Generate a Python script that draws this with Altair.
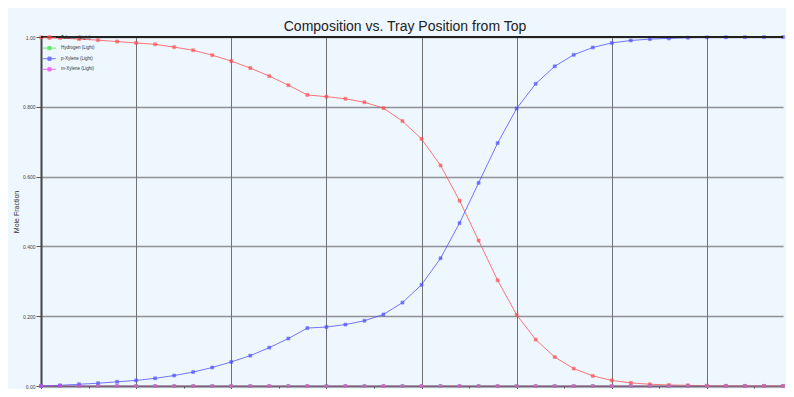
import altair as alt
import pandas as pd

trays = list(range(40))
series = ["Toluene (Light)", "Hydrogen (Light)", "p-Xylene (Light)", "m-Xylene (Light)"]
colors = ["#ff4a4a", "#3fe03f", "#4a4aff", "#ee40ee"]

toluene = [0.999, 0.997, 0.994, 0.991, 0.987, 0.983, 0.979, 0.971, 0.962, 0.948,
           0.931, 0.911, 0.888, 0.862, 0.834, 0.829, 0.823, 0.813, 0.796, 0.759,
           0.708, 0.632, 0.531, 0.417, 0.303, 0.204, 0.133, 0.083, 0.050, 0.029,
           0.016, 0.009, 0.005, 0.003, 0.002, 0.001, 0.0005, 0.0003, 0.0002, 0.0001]
hydrogen = [0.0] * 40
pxylene = [0.0, 0.002, 0.005, 0.008, 0.012, 0.016, 0.022, 0.030, 0.040, 0.053,
           0.069, 0.087, 0.110, 0.136, 0.166, 0.169, 0.176, 0.187, 0.205, 0.239,
           0.290, 0.366, 0.467, 0.582, 0.696, 0.795, 0.866, 0.916, 0.949, 0.970,
           0.983, 0.990, 0.994, 0.996, 0.998, 0.999, 0.9993, 0.9995, 0.9997, 0.9998]
mxylene = [0.0] * 40

rows = []
for name, vals in zip(series, [toluene, hydrogen, pxylene, mxylene]):
    for t, v in zip(trays, vals):
        rows.append({"Tray": t, "Fraction": v, "Series": name})
df = pd.DataFrame(rows)

x_major = "abs(datum.value % 5) < 0.01"
y_major = "abs(datum.value * 5 - round(datum.value * 5)) < 0.01"

x_axis = alt.Axis(
    values=[i * 2.5 for i in range(16)],
    labelExpr="abs(datum.value % 5) < 0.01 ? format(datum.value, 'd') : ''",
    title=None,
    gridColor="#505050",
    gridWidth=1,
    gridOpacity={"condition": {"test": x_major, "value": 0.8}, "value": 0},
    tickSize={"condition": {"test": x_major, "value": 4}, "value": 2},
    tickColor="#555",
    domainColor="#333",
    domainWidth=1.5,
    labelFontSize=5,
    labelColor="#444",
    labelPadding=1,
)
y_axis = alt.Axis(
    values=[round(i * 0.1, 1) for i in range(11)],
    labelExpr="datum.value == 0 ? '0.00' : (datum.value == 1 ? '1.00' : (abs(datum.value * 5 - round(datum.value * 5)) < 0.01 ? format(datum.value, '.3f') : ''))",
    title="Mole Fraction",
    titleFontSize=7,
    titleFontWeight="normal",
    titleColor="#333",
    titleFont="Liberation Sans",
    titlePadding=3,
    gridColor="#707070",
    gridWidth=1.5,
    gridOpacity={"condition": {"test": y_major, "value": 0.75}, "value": 0},
    tickSize={"condition": {"test": y_major, "value": 5}, "value": 2},
    tickColor="#555",
    domainColor="#444",
    domainWidth=2,
    labelFontSize=5,
    labelColor="#444",
    labelPadding=1,
)

x = alt.X("Tray:Q", scale=alt.Scale(domain=[0, 39], nice=False, zero=False), axis=x_axis)
y = alt.Y("Fraction:Q", scale=alt.Scale(domain=[0, 1], nice=False), axis=y_axis)
color_scale = alt.Scale(domain=series, range=colors)

lines = alt.Chart(df).mark_line(strokeWidth=1, opacity=0.75).encode(
    x=x, y=y,
    color=alt.Color("Series:N", scale=color_scale, sort=series,
                    legend=alt.Legend(
                        title=None, orient="none", legendX=6, legendY=-2,
                        symbolType="M-3.2,0H3.2M-0.8,-0.8H0.8V0.8H-0.8Z",
                        symbolSize=16, symbolStrokeWidth=1,
                        labelFontSize=4.5, labelColor="#333",
                        labelOffset=9, rowPadding=1.6, padding=0,
                    )),
    order=alt.Order("Series:N"),
)
points = alt.Chart(df).mark_point(shape="square", size=9, filled=True, opacity=0.7,
                                  strokeWidth=0.6).encode(
    x=x, y=y,
    color=alt.Color("Series:N", scale=color_scale, legend=None),
    stroke=alt.Color("Series:N", scale=color_scale, legend=None),
)
top_rule = alt.Chart(df).mark_rule(color="#222", strokeWidth=1.3).encode(
    y=alt.datum(1)
)

chart = alt.layer(lines, points, top_rule).properties(
    width=742, height=349,
    title=alt.TitleParams("Composition vs. Tray Position from Top", fontSize=14,
                          font="Liberation Sans", fontWeight="normal", color="#222",
                          offset=0, anchor="middle", dx=-7),
    background="#eef6fe",
    autosize=alt.AutoSizeParams(type="none"),
    padding={"left": 33, "top": 29, "right": 3, "bottom": 3},
).configure_view(stroke=None, fill="#eef6fe")

chart.save("out.html", embed_options={"renderer": "svg", "actions": False})
